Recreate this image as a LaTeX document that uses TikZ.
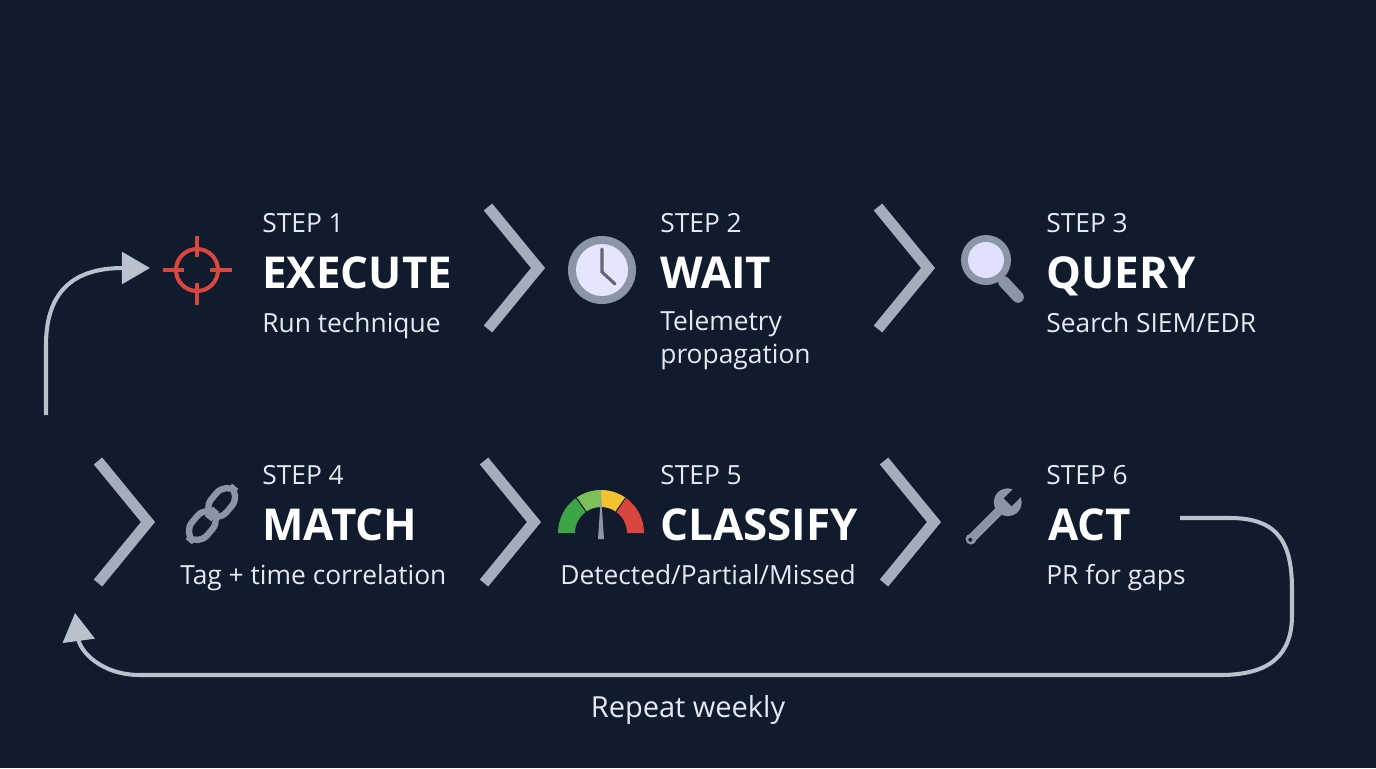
\documentclass[tikz,border=0pt]{standalone}
\usepackage{fontspec}
\setmainfont{Open Sans}
\usetikzlibrary{arrows.meta}
\definecolor{bg}{HTML}{111B2E}
\definecolor{chev}{HTML}{A3ADBB}
\definecolor{loopc}{HTML}{B9C1CD}
\definecolor{tx}{HTML}{E6EAF0}
\definecolor{redc}{HTML}{D9463F}
\definecolor{iconc}{HTML}{8A95A5}
\definecolor{gg1}{HTML}{3DA447}
\definecolor{gg2}{HTML}{7CC157}
\definecolor{gg3}{HTML}{F2C230}
\begin{document}
\begin{tikzpicture}[x=0.02cm,y=-0.02cm,
  steplbl/.style={anchor=base west,text=tx,font=\fontsize{15}{18}\selectfont,inner sep=0},
  title/.style={anchor=base west,text=white,font=\fontsize{25}{30}\selectfont\bfseries,inner sep=0},
  sub/.style={anchor=base west,text=tx,font=\fontsize{15}{19}\selectfont,inner sep=0,align=left},
  chevron/.style={draw=chev,line width=6.2pt,line join=miter},
  loopline/.style={draw=loopc,line width=2.3pt}]
\fill[bg] (0,0) rectangle (1376,768);
\useasboundingbox (0,0) rectangle (1376,768);
% texts row 1
\node[steplbl] (s1) at (262,232) {STEP 1};
\node[title] (t1) at (262,288) {EXECUTE};
\node[sub] (d1) at (262,332) {Run technique};
\node[steplbl] (s2) at (660,232) {STEP 2};
\node[title] (t2) at (660,288) {WAIT};
\node[sub,anchor=north west] (d2) at (660,310) {Telemetry\\propagation};
\node[steplbl] (s3) at (1046,232) {STEP 3};
\node[title] (t3) at (1046,288) {QUERY};
\node[sub] (d3) at (1046,332) {Search SIEM/EDR};
% row 2
\node[steplbl] (s4) at (262,484) {STEP 4};
\node[title] (t4) at (262,540) {MATCH};
\node[sub] (d4) at (180,584) {Tag + time correlation};
\node[steplbl] (s5) at (660,484) {STEP 5};
\node[title] (t5) at (660,540) {CLASSIFY};
\node[sub] (d5) at (560,584) {Detected/Partial/Missed};
\node[steplbl] (s6) at (1046,484) {STEP 6};
\node[title] (t6) at (1048,540) {ACT};
\node[sub] (d6) at (1046,584) {PR for gaps};
\node[anchor=base,text=tx,font=\fontsize{16.5}{20}\selectfont,inner sep=0] (rep) at (688,717) {Repeat weekly};
% chevrons
\foreach \x/\y in {488/268,878/268,98/522,484/522,884/522}
  \draw[chevron] (\x,\y-61) -- (\x+50,\y) -- (\x,\y+61);
% loop arrows
\coordinate (la) at (46,415);
\coordinate (lb) at (150,268);
\draw[loopline,-{Triangle[length=16pt,width=18pt]}] (la) -- (46,345) .. controls (46,295) and (70,268) .. (lb);
\coordinate (ra) at (1180,518);
\coordinate (rb) at (75,613);
\draw[loopline,-{Triangle[length=16pt,width=18pt]}] (ra) -- (1230,518) .. controls (1280,518) and (1292,545) .. (1292,590) -- (1292,615) .. controls (1292,655) and (1270,675) .. (1220,675) -- (140,675) .. controls (100,675) and (80,650) .. (rb);
% crosshair
\draw[redc,line width=2.3pt] (197,270) circle (21);
\draw[redc,line width=2.3pt] (197,236) -- (197,257) (197,283) -- (197,305) (163,270) -- (184,270) (210,270) -- (232,270);
% clock
\fill[iconc] (602,270) circle (34);
\fill[white!90!blue] (602,270) circle (26);
\draw[iconc!70!black,line width=1.8pt,line cap=round] (602,249) -- (602,272) -- (615,284);
% magnifier
\draw[iconc,line width=6.6pt,line cap=round] (1004,282) -- (1018,297);
\fill[iconc] (986,260) circle (25);
\fill[blue!12!white] (986,260) circle (18);
% chain
\begin{scope}[shift={(212,514)},yscale=-1,rotate=-50]
\draw[iconc,line width=3.6pt,rounded corners=8pt] (-33,-10) rectangle (3,10);
\draw[iconc,line width=3.6pt,rounded corners=8pt] (-3,-10) rectangle (33,10);
\end{scope}
% gauge
\begin{scope}[shift={(601,533)},yscale=-1]
\fill[gg1] (180:43) arc (180:125:43) -- (125:26) arc (125:180:26) -- cycle;
\fill[gg2] (125:43) arc (125:90:43) -- (90:26) arc (90:125:26) -- cycle;
\fill[gg3] (90:43) arc (90:55:43) -- (55:26) arc (55:90:26) -- cycle;
\fill[redc] (55:43) arc (55:0:43) -- (0:26) arc (0:55:26) -- cycle;
\draw[bg,line width=0.6pt] (125:26) -- (125:43) (55:26) -- (55:43);
\fill[iconc] (-3,-6) -- (0,38) -- (3,-6) -- cycle;
\end{scope}
% wrench
\begin{scope}[shift={(995,515)},rotate=-45]
\fill[iconc] (-4.5,-5) rectangle (4.5,34);
\fill[iconc] (0,34) circle (5.5);
\fill[bg] (0,35) circle (2);
\fill[iconc] (0,-18) circle (14);
\fill[bg] (-5.5,-36) rectangle (5.5,-18);
\end{scope}
\end{tikzpicture}
\end{document}
